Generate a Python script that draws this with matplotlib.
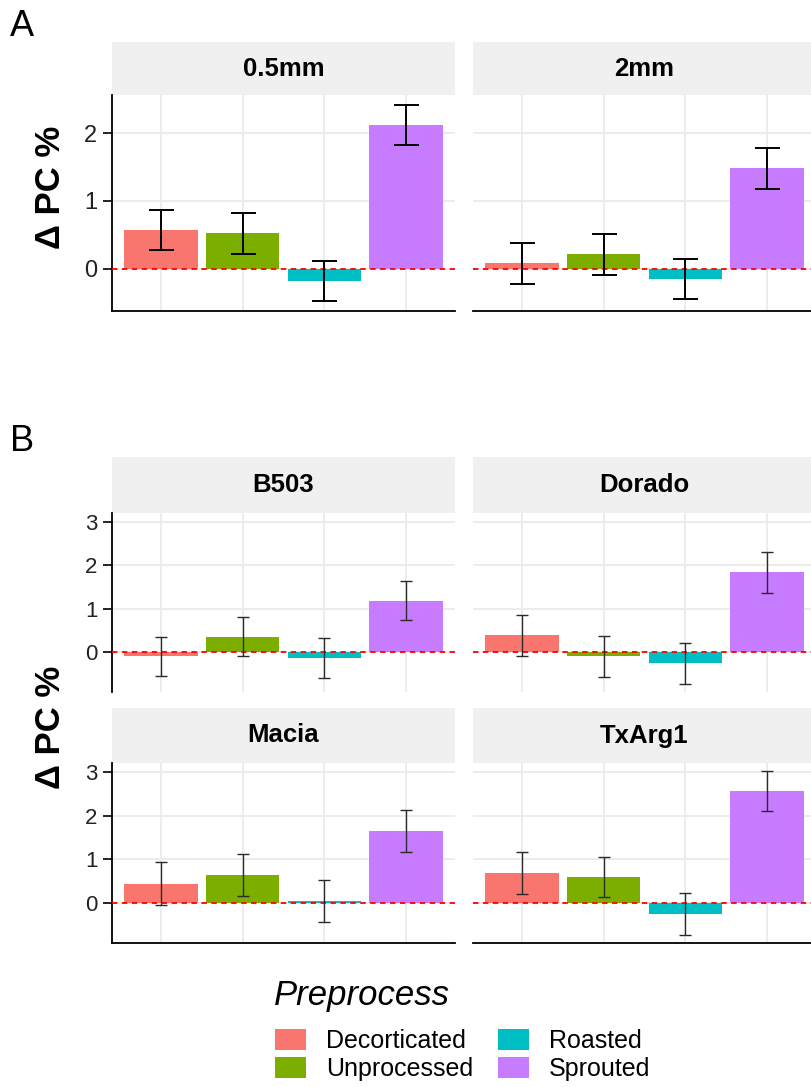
import matplotlib
matplotlib.use("Agg")
import matplotlib.pyplot as plt
import numpy as np

plt.rcParams['font.family'] = ['Liberation Sans', 'DejaVu Sans']

# categories and colours (ggplot default hue palette)
preprocess = ["Decorticated", "Unprocessed", "Roasted", "Sprouted"]
colors = ["#F8766D", "#7CAE00", "#00BFC4", "#C77CFF"]

# panel A: particle size
sizes = ["0.5mm", "2mm"]
a_05mm = [0.57, 0.52, -0.18, 2.12]
a_05mm_err = [0.29, 0.30, 0.30, 0.30]
a_2mm = [0.08, 0.21, -0.15, 1.48]
a_2mm_err = [0.30, 0.30, 0.30, 0.30]

# panel B: variety
varieties = ["B503", "Dorado", "Macia", "TxArg1"]
b_b503 = [-0.10, 0.35, -0.14, 1.18]
b_b503_err = [0.455, 0.45, 0.455, 0.45]
b_dorado = [0.39, -0.10, -0.26, 1.84]
b_dorado_err = [0.475, 0.47, 0.47, 0.475]
b_macia = [0.44, 0.64, 0.05, 1.64]
b_macia_err = [0.485, 0.485, 0.48, 0.485]
b_txarg1 = [0.68, 0.60, -0.26, 2.56]
b_txarg1_err = [0.48, 0.46, 0.475, 0.46]

W, H = 811, 1087
fig = plt.figure(figsize=(W / 100, H / 100), dpi=100)


def px_axes(left, top, width, height):
    return fig.add_axes([left / W, 1 - (top + height) / H, width / W, height / H])


def data_limits(vals, errs):
    lo = min(min(v - e for v, e in zip(vs, es)) for vs, es in zip(vals, errs))
    hi = max(max(v + e for v, e in zip(vs, es)) for vs, es in zip(vals, errs))
    lo, hi = min(lo, 0), max(hi, 0)
    r = hi - lo
    return lo - 0.05 * r, hi + 0.05 * r


def panel(left, top, strip_h, plot_h, title, vals, errs, ylim, yticks,
          show_left, show_bottom, tick_fs, ecolor, elw, capsize):
    st = px_axes(left, top, 343, strip_h)
    st.set_facecolor("#F0F0F0")
    for s in st.spines.values():
        s.set_visible(False)
    st.set_xticks([])
    st.set_yticks([])
    st.text(0.5, 0.5, title, ha="center", va="center", fontsize=18.5,
            fontweight="bold", transform=st.transAxes)

    ax = px_axes(left, top + strip_h, 343, plot_h)
    x = np.arange(len(preprocess))
    bars = ax.bar(x, vals, width=0.9, color=colors, zorder=2, label=preprocess)
    ax.axhline(0, color="red", lw=1.3, ls=(0, (3, 2.5)), zorder=3)
    ax.errorbar(x, vals, yerr=errs, fmt="none", ecolor=ecolor, elinewidth=elw,
                capsize=capsize, capthick=elw, zorder=4)
    ax.set_xlim(-0.6, 3.6)
    ax.set_ylim(*ylim)
    ax.set_xticks(x)
    ax.set_yticks(yticks)
    ax.grid(True, color="#EBEBEB", lw=1.3, zorder=0)
    ax.set_axisbelow(True)
    ax.tick_params(axis="x", length=0, labelbottom=False)
    for s in ["top", "right"]:
        ax.spines[s].set_visible(False)
    ax.spines["left"].set_visible(show_left)
    ax.spines["bottom"].set_visible(show_bottom)
    ax.spines["left"].set_linewidth(1.3)
    ax.spines["bottom"].set_linewidth(1.3)
    if show_left:
        ax.tick_params(axis="y", length=6.5, width=1.2, pad=4,
                       labelsize=tick_fs, labelcolor="#222222")
    else:
        ax.tick_params(axis="y", length=0, labelleft=False)
    return ax, bars


# ---- panel A ----
a_vals = [a_05mm, a_2mm]
a_errs = [a_05mm_err, a_2mm_err]
a_lim = data_limits(a_vals, a_errs)
for i, (name, v, e) in enumerate(zip(sizes, a_vals, a_errs)):
    ax, bars = panel([112, 473][i], 42, 53, 216, name, v, e, a_lim, [0, 1, 2],
                     i == 0, True, 17, "black", 1.4, 9)
    if i == 0:
        handles = list(bars)

# ---- panel B ----
b_vals = [b_b503, b_dorado, b_macia, b_txarg1]
b_errs = [b_b503_err, b_dorado_err, b_macia_err, b_txarg1_err]
b_lim = data_limits(b_vals, b_errs)
b_tops = [457, 457, 708, 708]
for i, (name, v, e) in enumerate(zip(varieties, b_vals, b_errs)):
    panel([112, 473][i % 2], b_tops[i], 56 if i < 2 else 55, 179 if i < 2 else 180,
          name, v, e, b_lim, [0, 1, 2, 3], i % 2 == 0, i >= 2, 16, "#2a2a2a", 1.0, 4)

# panel letters and axis titles
fig.text(10 / W, 1 - 27 / H, "A", fontsize=26, va="center", ha="left")
fig.text(10 / W, 1 - 442 / H, "B", fontsize=26, va="center", ha="left")
fig.text(50 / W, 1 - 187 / H, "Δ PC %", rotation=90, fontsize=25,
         fontweight="bold", ha="center", va="center")
fig.text(50 / W, 1 - 727 / H, "Δ PC %", rotation=90, fontsize=25,
         fontweight="bold", ha="center", va="center")

# legend
fig.text(274 / W, 1 - 996 / H, "Preprocess", fontsize=25, style="italic",
         ha="left", va="center")
leg = fig.legend(handles, preprocess, loc="upper left",
                 bbox_to_anchor=(275 / W, 1 - 1029 / H), ncol=2, frameon=False,
                 fontsize=18,
                 handlelength=1.24, handleheight=0.92, handletextpad=0.8,
                 columnspacing=1.0, labelspacing=0.15, borderpad=0,
                 borderaxespad=0)

fig.savefig("out.png", dpi=100)
